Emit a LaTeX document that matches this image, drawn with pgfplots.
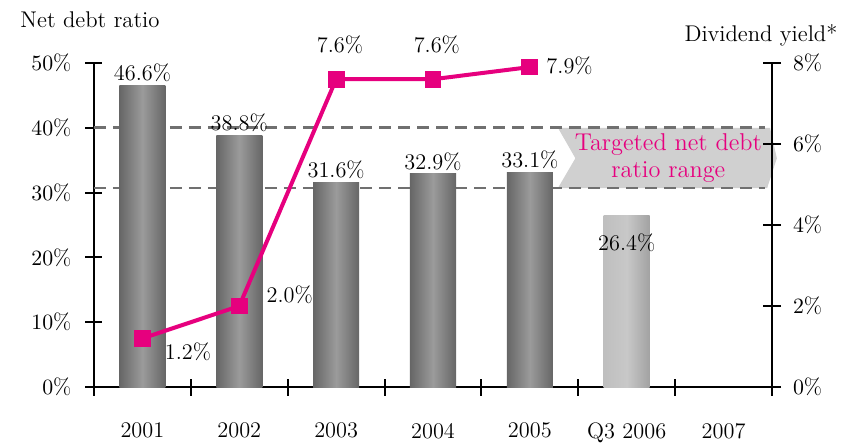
\documentclass[border=0pt]{standalone}
\usepackage{pgfplots}
\pgfplotsset{compat=1.18}
\definecolor{tmag}{RGB}{230,0,126}
\definecolor{bardark}{RGB}{102,102,102}
\definecolor{barmid}{RGB}{155,155,155}
\definecolor{lbardark}{RGB}{162,162,162}
\definecolor{lbarmid}{RGB}{200,200,200}
\definecolor{dashgray}{RGB}{112,112,112}
\definecolor{chev}{RGB}{208,208,208}
\pgfplotsset{
  darkbar/.style={ybar, bar width=0.475, bar shift=0pt, draw=none, left color=bardark, right color=bardark, middle color=barmid},
}
\begin{document}
\begin{tikzpicture}
\begin{axis}[
  scale only axis, width=339bp, height=162bp,
  xmin=-0.5, xmax=6.5, ymin=0, ymax=50,
  axis y line*=left, axis x line*=bottom,
  axis line style={line width=1.1bp, -},
  xtick={-0.5,0.5,...,6.5}, xticklabels={},
  major tick length=8.5bp, tick align=center,
  tick style={black, line width=1bp},
  extra x ticks={0,1,2,3,4,5,6},
  extra x tick labels={2001,2002,2003,2004,2005,Q3 2006,2007},
  extra x tick style={major tick length=0pt, xticklabel style={anchor=north, yshift=-14.5bp, font=\fontsize{11.2}{13}\selectfont}},
  ytick={0,10,20,30,40,50},
  yticklabel={\pgfmathprintnumber{\tick}\%},
  yticklabel style={xshift=-3.5bp, font=\fontsize{11.2}{13}\selectfont},
  clip=false,
]
\fill[chev] (axis cs:4.29,40) -- (axis cs:6.48,40) -- (axis cs:6.55,35.3) -- (axis cs:6.45,30.7) -- (axis cs:4.29,30.7) -- (axis cs:4.47,35.3) -- cycle;
\draw[dashgray, line width=1.4bp, dash pattern=on 6bp off 3.5bp] (axis cs:-0.5,40) -- (axis cs:6.43,40);
\draw[dashgray, line width=1.4bp, dash pattern=on 6bp off 3.5bp] (axis cs:-0.5,30.7) -- (axis cs:6.43,30.7);
\node[tmag, align=center, font=\fontsize{12.2}{13.5}\selectfont] at (axis cs:5.43,35.3) {Targeted net debt\\ratio range};
\addplot[darkbar] coordinates {(0,46.6)};
\addplot[darkbar] coordinates {(1,38.8)};
\addplot[darkbar] coordinates {(2,31.6)};
\addplot[darkbar] coordinates {(3,32.9)};
\addplot[darkbar] coordinates {(4,33.1)};
\addplot[ybar, bar width=0.475, bar shift=0pt, draw=none, left color=lbarmid!75!lbardark, right color=lbardark, middle color=lbarmid]
  coordinates {(5,26.4)};
\begin{scope}[font=\fontsize{11.2}{13}\selectfont]
\node[anchor=south, inner sep=1.5bp] at (axis cs:0,46.6) {46.6\%};
\node[anchor=south, inner sep=1.5bp] at (axis cs:1,38.8) {38.8\%};
\node[anchor=south, inner sep=1.5bp] at (axis cs:2,31.6) {31.6\%};
\node[anchor=south, inner sep=1.5bp] at (axis cs:3,32.9) {32.9\%};
\node[anchor=south, inner sep=1.5bp] at (axis cs:4,33.1) {33.1\%};
\node at (axis cs:5,22.2) {26.4\%};
\end{scope}
\end{axis}
\begin{axis}[
  scale only axis, width=339bp, height=162bp,
  xmin=-0.5, xmax=6.5, ymin=0, ymax=8,
  axis y line*=right, axis x line=none,
  axis line style={line width=1.1bp, -},
  major tick length=9bp, tick align=center,
  tick style={black, line width=1bp},
  ytick={0,2,4,6,8},
  yticklabel={\pgfmathprintnumber{\tick}\%},
  yticklabel style={xshift=2.5bp, font=\fontsize{11.2}{13}\selectfont},
  clip=false,
]
\addplot[tmag, line width=2bp, mark=square*, mark size=3.2bp, mark options={solid}]
  coordinates {(0,1.2) (1,2.0) (2,7.6) (3,7.6) (4,7.9)};
\begin{scope}[font=\fontsize{11.2}{13}\selectfont]
\node at (axis cs:0.47,0.86) {1.2\%};
\node at (axis cs:1.52,2.27) {2.0\%};
\node at (axis cs:2.04,8.44) {7.6\%};
\node at (axis cs:3.04,8.44) {7.6\%};
\node at (axis cs:4.41,7.93) {7.9\%};
\end{scope}
\end{axis}
\node[font=\fontsize{11.4}{13}\selectfont] at (-2bp,183.5bp) {Net debt ratio};
\node[font=\fontsize{11.4}{13}\selectfont] at (333.5bp,176bp) {Dividend yield*};
\pgfresetboundingbox
\path[use as bounding box] (-47bp,-29bp) rectangle (379bp,193.5bp);
\end{tikzpicture}
\end{document}
